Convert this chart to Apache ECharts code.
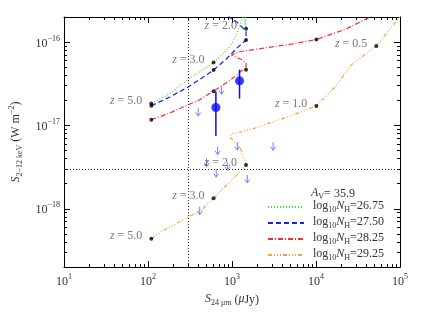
<!DOCTYPE html>
<html><head><meta charset="utf-8">
<script src="https://cdn.jsdelivr.net/npm/echarts@6/dist/echarts.min.js"></script>
<style>html,body{margin:0;padding:0;background:#fff}#c{width:436px;height:312px}</style>
</head><body><div id="c"></div>
<script>
// ---- data (x: S24um in uJy, y: S2-12keV in W m^-2) ----
const xRange = [10, 1e5];
const yRange = [2e-19, 2e-16];
const xTickExps = [1, 2, 3, 4, 5];
const yTickExps = [-18, -17, -16];

const greenX = [109.6, 181.8, 297, 483.6, 603.4, 824, 993, 1135, 1349, 1386, 1470, 1423];
const greenY = [1.84e-17, 2.40e-17, 3.55e-17, 4.89e-17, 5.69e-17, 7.62e-17, 9.50e-17, 1.24e-16, 2.0e-16, 2.28e-16, 1.45e-16, 2.28e-16];
const greenDots = [0, 4, 10];

const blueX = [109.6, 181.8, 297, 442.9, 603.4, 869.6, 1175, 1332, 1470, 1470, 1343, 1135, 942, 869.6];
const blueY = [1.72e-17, 2.20e-17, 2.87e-17, 3.74e-17, 4.63e-17, 6.37e-17, 8.70e-17, 9.75e-17, 1.057e-16, 1.342e-16, 1.481e-16, 1.75e-16, 1.973e-16, 2.166e-16];
const blueDots = [0, 4, 8];

const redX = [109.6, 181.8, 297, 404.6, 603.4, 985, 1332, 1470, 1470, 1343, 985, 1175, 2862, 5327, 10100, 22060, 41170, 51350];
const redY = [1.17e-17, 1.41e-17, 1.76e-17, 2.01e-17, 2.58e-17, 3.58e-17, 4.63e-17, 4.67e-17, 5.58e-17, 6.09e-17, 6.96e-17, 7.62e-17, 8.70e-17, 9.50e-17, 1.076e-16, 1.415e-16, 1.93e-16, 2.17e-16];
const redDots = [0, 4, 7, 14];

const orangeX = [109.6, 133.4, 199, 297, 423, 603.4, 824, 1175, 1470, 1405, 1343, 1286, 1175, 1028, 942, 985, 1229, 1753, 2862, 4879, 10100, 16760, 26360, 52300, 100000];
const orangeY = [4.37e-19, 5.07e-19, 6.34e-19, 7.91e-19, 9.46e-19, 1.336e-18, 1.838e-18, 2.62e-18, 3.35e-18, 3.90e-18, 4.26e-18, 5.09e-18, 5.82e-18, 6.65e-18, 7.25e-18, 7.94e-18, 8.29e-18, 9.07e-18, 1.081e-17, 1.291e-17, 1.717e-17, 2.87e-17, 5.33e-17, 9.0e-17, 2.015e-16];
const orangeDots = [0, 5, 8, 20, 23];

const curveNames = ['26.75', '27.50', '28.25', '29.25'];

const ptX = [643, 1229];
const ptY = [1.64e-17, 3.43e-17];
const ptLo = [7.45e-18, 2.10e-17];
const ptHi = [2.56e-17, 4.67e-17];

const limX = [396, 751, 675, 1157, 3084, 497, 649, 881, 1521, 412];
const limY = [1.62e-17, 2.95e-17, 5.59e-18, 6.30e-18, 6.30e-18, 4.01e-18, 2.99e-18, 3.60e-18, 2.55e-18, 1.06e-18];

const zLabelText = ['5.0', '3.0', '2.0', '1.0', '0.5', '5.0', '3.0', '2.0'];
const zLabelX = [109.6, 603.4, 1470, 10100, 52300, 109.6, 603.4, 1470];
const zLabelY = [1.84e-17, 5.69e-17, 1.45e-16, 1.717e-17, 9.0e-17, 4.37e-19, 1.336e-18, 3.35e-18];

const refX = 300;
const refY = 3e-18;
const avText = '35.9';

// ---- build ----
const L = Math.log10;
const FONT = 'Liberation Serif';
const TXT = '#333';
const xMin = L(xRange[0]), xMax = L(xRange[1]);
const yMin = L(yRange[0]), yMax = L(yRange[1]);

function minorTicks(lo, hi) {
  const out = [];
  for (let e = Math.floor(lo); e < Math.ceil(hi); e++) {
    for (let k = 2; k <= 9; k++) {
      const v = e + L(k);
      if (v > lo && v < hi) out.push(v);
    }
  }
  return out;
}
const xMinor = minorTicks(xMin, xMax);
const yMinor = minorTicks(yMin, yMax);

const rich = {
  b: { fontFamily: FONT, fontSize: 12, color: TXT, verticalAlign: 'bottom', padding: [0, 0, 0, 0] },
  s: { fontFamily: FONT, fontSize: 8, color: TXT, verticalAlign: 'bottom', padding: [0, 0, 7, 0] }
};

function xAxisDef(pos, major, labels) {
  return {
    type: 'value', min: xMin, max: xMax, interval: 1, position: pos, gridIndex: 0,
    axisLine: { show: major, lineStyle: { color: '#000', width: 1 } },
    splitLine: { show: false },
    axisTick: { show: true, inside: true, length: major ? 6 : 3, lineStyle: { color: '#000' },
      customValues: major ? xTickExps : xMinor },
    axisLabel: labels ? {
      show: true, customValues: xTickExps, margin: 6,
      formatter: v => '{b|10}{s|' + Math.round(v) + '}', rich: rich
    } : { show: false }
  };
}
function yAxisDef(pos, major, labels) {
  return {
    type: 'value', min: yMin, max: yMax, position: pos, gridIndex: 0,
    axisLine: { show: major, lineStyle: { color: '#000', width: 1 } },
    splitLine: { show: false },
    axisTick: { show: true, inside: true, length: major ? 6 : 3, lineStyle: { color: '#000' },
      customValues: major ? yTickExps : yMinor },
    axisLabel: labels ? {
      show: true, customValues: yTickExps, margin: 4,
      formatter: v => '{b|10}{s|\u2212' + Math.abs(Math.round(v)) + '}', rich: rich
    } : { show: false }
  };
}

const xAxes = [xAxisDef('bottom', true, true), xAxisDef('top', true, false), xAxisDef('bottom', false, false), xAxisDef('top', false, false)];
const yAxes = [yAxisDef('left', true, true), yAxisDef('right', true, false), yAxisDef('left', false, false), yAxisDef('right', false, false)];

xAxes[0].name = '{i|S}{sub|24 \u03bcm} ({i|\u03bc}Jy)';
xAxes[0].nameLocation = 'middle';
xAxes[0].nameGap = 21;
xAxes[0].nameTextStyle = { rich: {
  i: { fontFamily: FONT, fontSize: 12, fontStyle: 'italic', color: TXT, verticalAlign: 'bottom', padding: [0, 0, 2, 0] },
  sub: { fontFamily: FONT, fontSize: 8, color: TXT, verticalAlign: 'bottom' },
  t: { fontFamily: FONT, fontSize: 12, color: TXT, verticalAlign: 'bottom', padding: [0, 0, 2, 0] }
}, fontFamily: FONT, fontSize: 12, color: TXT, verticalAlign: 'bottom', padding: [0, 0, 2, 0] };

yAxes[0].name = '{i|S}{sub|2\u221212 keV} (W m{sup|\u22122})';
yAxes[0].nameLocation = 'middle';
yAxes[0].nameGap = 38;
yAxes[0].nameRotate = 90;
yAxes[0].nameTextStyle = { rich: {
  i: { fontFamily: FONT, fontSize: 12, fontStyle: 'italic', color: TXT, verticalAlign: 'bottom', padding: [0, 0, 2, 0] },
  sub: { fontFamily: FONT, fontSize: 8, color: TXT, verticalAlign: 'bottom' },
  sup: { fontFamily: FONT, fontSize: 8, color: TXT, verticalAlign: 'bottom', padding: [0, 0, 8, 0] }
}, fontFamily: FONT, fontSize: 12, color: TXT, verticalAlign: 'bottom', padding: [0, 0, 2, 0] };

const curves = [
  { x: greenX, y: greenY, dots: greenDots, color: '#33e633', dash: [1, 2] },
  { x: blueX, y: blueY, dots: blueDots, color: '#1a1aff', dash: [5, 3] },
  { x: redX, y: redY, dots: redDots, color: '#ff2a2a', dash: [5, 2, 1, 2] },
  { x: orangeX, y: orangeY, dots: orangeDots, color: '#ffa033', dash: [4, 2, 1, 2, 1, 2, 1, 2] }
];

const series = [];
curves.forEach((c, ci) => {
  series.push({
    type: 'line', name: 'log10NH=' + curveNames[ci], xAxisIndex: 0, yAxisIndex: 0,
    data: c.x.map((v, i) => [L(v), L(c.y[i])]),
    symbol: 'none', clip: true, silent: true, animation: false,
    lineStyle: { color: c.color, width: 1.2, type: c.dash },
    itemStyle: { color: c.color },
    markLine: ci === 0 ? {
      symbol: 'none', silent: true, animation: false, label: { show: false },
      lineStyle: { color: '#222', width: 1, type: [1, 2] },
      data: [{ xAxis: L(refX) }, { yAxis: L(refY) }]
    } : undefined,
    z: 3
  });
});

// error bars
series.push({
  type: 'custom', xAxisIndex: 0, yAxisIndex: 0, silent: true, animation: false, z: 4,
  data: ptX.map((x, i) => [L(x), L(ptLo[i]), L(ptHi[i])]),
  renderItem: (params, api) => {
    const a = api.coord([api.value(0), api.value(1)]);
    const b = api.coord([api.value(0), api.value(2)]);
    return { type: 'line', shape: { x1: a[0], y1: a[1], x2: b[0], y2: b[1] }, style: { stroke: '#0a0aff', lineWidth: 1.5 } };
  }
});
series.push({
  type: 'scatter', xAxisIndex: 0, yAxisIndex: 0, silent: true, animation: false, z: 5,
  data: ptX.map((x, i) => [L(x), L(ptY[i])]),
  symbol: 'circle', symbolSize: 9, itemStyle: { color: '#0a0aff' }
});

// upper-limit arrows
const AC = '#7d7dff';
series.push({
  type: 'custom', xAxisIndex: 0, yAxisIndex: 0, silent: true, animation: false, z: 4,
  data: limX.map((x, i) => [L(x), L(limY[i])]),
  renderItem: (params, api) => {
    const p = api.coord([api.value(0), api.value(1)]);
    const len = 8;
    return { type: 'group', children: [
      { type: 'line', shape: { x1: p[0], y1: p[1], x2: p[0], y2: p[1] + len }, style: { stroke: AC, lineWidth: 1 } },
      { type: 'polyline', shape: { points: [[p[0] - 2.5, p[1] + len - 3.5], [p[0], p[1] + len], [p[0] + 2.5, p[1] + len - 3.5]] }, style: { stroke: AC, fill: null, lineWidth: 1 } }
    ] };
  }
});

// black redshift dots
const dotData = [];
curves.forEach(c => c.dots.forEach(i => dotData.push([L(c.x[i]), L(c.y[i])])));
series.push({
  type: 'scatter', xAxisIndex: 0, yAxisIndex: 0, silent: true, animation: false, z: 6,
  data: dotData, symbol: 'circle', symbolSize: 4, itemStyle: { color: '#000' }
});

// redshift labels
series.push({
  type: 'scatter', xAxisIndex: 0, yAxisIndex: 0, silent: true, animation: false, z: 6,
  data: zLabelX.map((x, i) => ({ value: [L(x), L(zLabelY[i])], t: zLabelText[i] })),
  symbolSize: 0,
  label: {
    show: true, position: 'left', distance: 9, offset: [0, -2.5],
    formatter: p => '{i|z} = ' + zLabelText[p.dataIndex],
    fontFamily: FONT, fontSize: 12, color: '#555',
    rich: { i: { fontFamily: FONT, fontSize: 12, fontStyle: 'italic', color: '#555' } }
  }
});

const chart = echarts.init(document.getElementById('c'), null, { renderer: 'canvas' });
chart.setOption({
  animation: false,
  backgroundColor: '#fff',
  grid: { left: 54.5, right: 36, top: 17, bottom: 35.3, containLabel: false },
  xAxis: xAxes,
  yAxis: yAxes,
  title: {
    text: '{i|A}{sub|V}= ' + avText, left: 311, top: 187, padding: 0,
    textStyle: { rich: {
      i: { fontFamily: FONT, fontSize: 12, fontStyle: 'italic', color: TXT, verticalAlign: 'bottom', padding: [0, 0, 2, 0] },
      sub: { fontFamily: FONT, fontSize: 8, color: TXT, verticalAlign: 'bottom' }
    }, fontFamily: FONT, fontSize: 12, color: TXT, fontWeight: 'normal', verticalAlign: 'bottom', padding: [0, 0, 2, 0] }
  },
  legend: {
    orient: 'vertical', left: 267, top: 200, padding: 0,
    itemWidth: 36, itemHeight: 10, itemGap: 2,
    itemStyle: { opacity: 0, borderWidth: 0 },
    data: curveNames.map(n => 'log10NH=' + n),
    formatter: name => '{t|log}{sub|10}{i|N}{sub|H}{t|=' + name.split('=')[1] + '}',
    textStyle: { padding: [0, 0, 0, 4], rich: {
      t: { fontFamily: FONT, fontSize: 12, color: TXT, verticalAlign: 'bottom', padding: [0, 0, 2, 0] },
      i: { fontFamily: FONT, fontSize: 12, fontStyle: 'italic', color: TXT, verticalAlign: 'bottom', padding: [0, 0, 2, 0] },
      sub: { fontFamily: FONT, fontSize: 8, color: TXT, verticalAlign: 'bottom' }
    } },
    selectedMode: false
  },
  series: series
});
</script>
</body></html>
